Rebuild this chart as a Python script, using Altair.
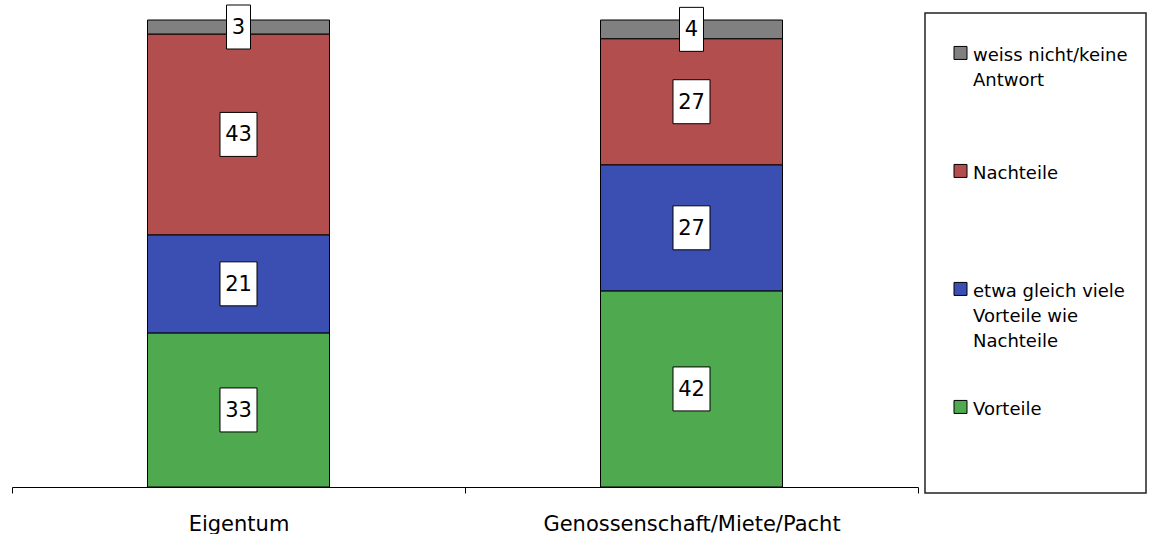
import altair as alt
import pandas as pd

# Survey answers per housing form (percent)
categories = ["Eigentum", "Genossenschaft/Miete/Pacht"]
responses = [
    "Vorteile",
    "etwa gleich viele Vorteile wie Nachteile",
    "Nachteile",
    "weiss nicht/keine Antwort",
]
eigentum = [33, 21, 43, 3]
genossenschaft = [42, 27, 27, 4]

colors = ["#4FA94F", "#3B4FB2", "#B34E4E", "#808080"]

# Legend entries, listed top to bottom
legend_labels = [
    "weiss nicht/keine\nAntwort",
    "Nachteile",
    "etwa gleich viele\nVorteile wie\nNachteile",
    "Vorteile",
]
legend_colors = ["#808080", "#B34E4E", "#3B4FB2", "#4FA94F"]

FONT = "DejaVu Sans"

rows = []
for cat, vals in zip(categories, [eigentum, genossenschaft]):
    for i, (resp, v) in enumerate(zip(responses, vals)):
        rows.append({"category": cat, "response": resp, "order": i,
                     "value": v, "digits": len(str(v))})
df = pd.DataFrame(rows)

base = (
    alt.Chart(df)
    .transform_stack(stack="value", groupby=["category"],
                     as_=["v0", "v1"], sort=[alt.SortField("order")])
    .transform_calculate(mid="(datum.v0 + datum.v1) / 2")
)

x_enc = alt.X("category:N", sort=categories, title=None,
              scale=alt.Scale(paddingInner=0, paddingOuter=0),
              axis=alt.Axis(labelAngle=0, tickBand="extent", labelLimit=500))
y_scale = alt.Scale(domain=[0, 101.5], nice=False, zero=True)

bars = base.mark_bar(width=182, stroke="black", strokeWidth=1).encode(
    x=x_enc,
    y=alt.Y("v0:Q", scale=y_scale, axis=None),
    y2="v1:Q",
    fill=alt.Fill("response:N", scale=alt.Scale(domain=responses, range=colors),
                  legend=None),
)

# White value boxes, wider for two-digit numbers
box_common = dict(filled=True, fill="white", stroke="black", strokeWidth=1,
                  size=1936, opacity=1)
box2 = base.transform_filter("datum.digits >= 2").mark_point(
    shape="M-0.841,-1H0.841V1H-0.841Z", **box_common
).encode(x=x_enc, y=alt.Y("mid:Q", scale=y_scale, axis=None))
box1 = base.transform_filter("datum.digits < 2").mark_point(
    shape="M-0.545,-1H0.545V1H-0.545Z", **box_common
).encode(x=x_enc, y=alt.Y("mid:Q", scale=y_scale, axis=None))

values = base.mark_text(font=FONT, fontSize=21, baseline="middle",
                        color="black", dy=1).encode(
    x=x_enc,
    y=alt.Y("mid:Q", scale=y_scale, axis=None),
    text="value:Q",
)

main = alt.layer(bars, box2, box1, values).properties(
    width=906, height=474, view=alt.ViewBackground(stroke=None)
)

# Legend panel
leg_df = pd.DataFrame({"label": legend_labels, "color": legend_colors})
leg_y = alt.Y("label:N", sort=legend_labels, axis=None,
              scale=alt.Scale(domain=legend_labels, padding=0.534, align=0.317))
leg_sym = alt.Chart(leg_df).mark_point(
    shape="square", filled=True, size=169, stroke="black", strokeWidth=1, opacity=1
).encode(x=alt.value(35.5), y=leg_y, fill=alt.Fill("color:N", scale=None))
leg_txt = alt.Chart(leg_df).mark_text(
    font=FONT, fontSize=18, align="left", baseline="alphabetic", dy=8,
    lineBreak="\n", lineHeight=25, color="black"
).encode(x=alt.value(48), y=leg_y, text="label:N")
legend = alt.layer(leg_sym, leg_txt).properties(
    width=221, height=480,
    view=alt.ViewBackground(stroke="#222222", strokeWidth=1.5),
)

chart = (
    alt.hconcat(main, legend, spacing=5)
    .properties(padding={"left": 11, "top": 3, "right": 0, "bottom": 0},
                background="white")
    .configure_axis(
        labelFont=FONT, labelFontSize=21, labelColor="black",
        domainColor="black", domainWidth=1, tickColor="black", tickWidth=1,
        tickSize=6, labelPadding=20, grid=False,
    )
)

chart.save("out.html", embed_options={"renderer": "svg", "actions": False})
